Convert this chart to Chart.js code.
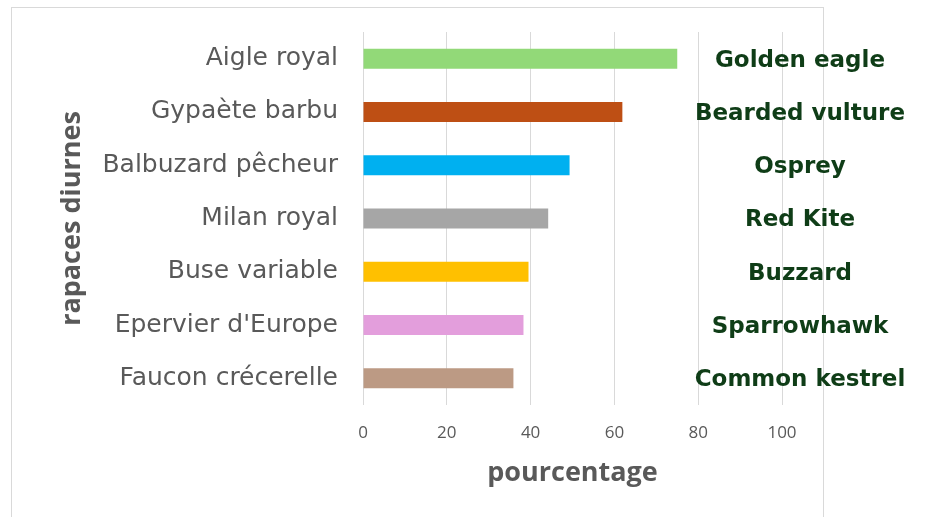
<!DOCTYPE html>
<html>
<head>
<meta charset="utf-8">
<script src="https://cdn.jsdelivr.net/npm/chart.js@4.4.0/dist/chart.umd.min.js"></script>
<style>
  html, body { margin: 0; padding: 0; background: #fff; }
  #wrap { width: 928px; height: 517px; position: relative; }
</style>
</head>
<body>
<div id="wrap"><canvas id="grafik"></canvas></div>
<script>
// donnees
const rapaces = ['Aigle royal', 'Gypaète barbu', 'Balbuzard pêcheur', 'Milan royal',
                 'Buse variable', "Epervier d'Europe", 'Faucon crécerelle'];
const noms_en = ['Golden eagle', 'Bearded vulture', 'Osprey', 'Red Kite',
                 'Buzzard', 'Sparrowhawk', 'Common kestrel'];
const pourcentages = [75, 61.9, 49.3, 44.2, 39.5, 38.3, 35.9];
const couleurs = ['#92D978', '#BE4F14', '#00B0F0', '#A6A6A6', '#FFC000', '#E39EDC', '#BC9A84'];

// cadre gris autour du graphique
const cadre = {
    id: 'cadre',
    beforeDraw(chart) {
        const ctx = chart.ctx;
        ctx.save();
        ctx.strokeStyle = '#D9D9D9';
        ctx.lineWidth = 1;
        ctx.strokeRect(11.5, 7.5, 812, 530);
        ctx.restore();
    }
};

// noms anglais a droite
const nomsAnglais = {
    id: 'nomsAnglais',
    afterDraw(chart) {
        const ctx = chart.ctx;
        const y = chart.scales.y;
        ctx.save();
        ctx.font = 'bold 23px "DejaVu Sans"';
        ctx.fillStyle = '#0F3D17';
        ctx.textAlign = 'center';
        ctx.textBaseline = 'middle';
        noms_en.forEach((nom, i) => {
            ctx.fillText(nom, 800, y.getPixelForValue(i) + 2);
        });
        ctx.restore();
    }
};

const grf = document.getElementById('grafik').getContext('2d');

new Chart(grf, {
    type: 'bar',
    data: {
        labels: rapaces,
        datasets: [{
            label: 'pourcentage',
            data: pourcentages,
            backgroundColor: couleurs,
            borderWidth: 0,
            barPercentage: 0.75,
            categoryPercentage: 0.5
        }]
    },
    options: {
        indexAxis: 'y',
        responsive: true,
        maintainAspectRatio: false,
        animation: false,
        layout: {
            padding: { left: 52, right: 146, top: 30, bottom: 0 }
        },
        plugins: {
            legend: { display: false },
            tooltip: { enabled: false }
        },
        scales: {
            x: {
                min: 0,
                max: 100,
                afterFit: (scale) => { scale.height = 112; },
                ticks: {
                    stepSize: 20,
                    color: '#595959',
                    font: { family: 'Open Sans', size: 17 },
                    padding: 18
                },
                grid: { color: '#D9D9D9', drawTicks: false },
                border: { display: false },
                title: {
                    display: true,
                    text: 'pourcentage',
                    color: '#595959',
                    font: { family: 'Open Sans', size: 27, weight: 'bold' },
                    padding: { top: 4, bottom: 27 }
                }
            },
            y: {
                afterFit: (scale) => { scale.width = 311; },
                ticks: {
                    color: '#595959',
                    font: { family: 'DejaVu Sans', size: 25 },
                    padding: 17
                },
                grid: { display: false },
                border: { display: false },
                title: {
                    display: true,
                    text: 'rapaces diurnes',
                    color: '#595959',
                    font: { family: 'Open Sans', size: 27, weight: 'bold' },
                    padding: { top: 4, bottom: 4 }
                }
            }
        }
    },
    plugins: [cadre, nomsAnglais]
});
</script>
</body>
</html>
